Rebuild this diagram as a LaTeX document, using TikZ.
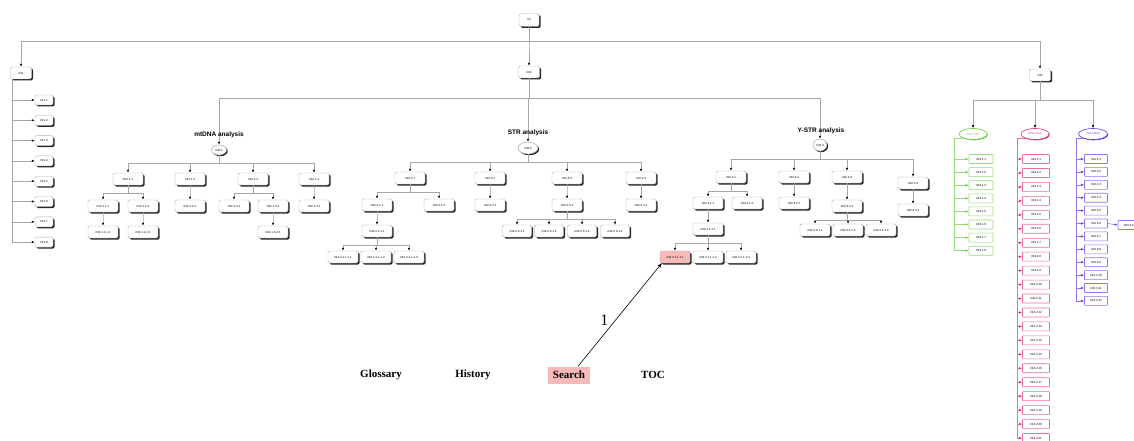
\documentclass[tikz,border=0pt]{standalone}
\usepackage{fontspec}
\setmainfont{Liberation Serif}
\newfontfamily\sansfam{Liberation Sans}
\usetikzlibrary{arrows.meta, positioning, shapes.geometric, shadows}
\definecolor{cgreen}{RGB}{110,200,70}
\definecolor{cred}{RGB}{225,50,110}
\definecolor{cblue}{RGB}{100,60,220}
\definecolor{cpink}{RGB}{248,185,185}

\begin{document}
\begin{tikzpicture}[
    x=1pt, y=-1pt,
    every node/.style={font=\sansfam\fontsize{3}{3.5}\selectfont, inner sep=0pt},
    tbox/.style={draw=black!30, rounded corners=1.5pt, fill=white, minimum width=30, minimum height=12,
        drop shadow={shadow xshift=1.5pt, shadow yshift=-1.5pt, fill=black, opacity=0.85}},
    lbox/.style={tbox, minimum width=18, minimum height=10},
    oval/.style={ellipse, draw=black!40, fill=white,
        drop shadow={shadow xshift=1.2pt, shadow yshift=-1.2pt, fill=black, opacity=0.85}},
    alabel/.style={font=\sansfam\bfseries\fontsize{6.5}{7}\selectfont},
    coval/.style={ellipse, draw=#1, line width=0.6pt, fill=white, text=#1, minimum width=28, minimum height=11,
        drop shadow={shadow xshift=0.8pt, shadow yshift=-0.8pt, fill=#1, opacity=1}},
    cbox/.style={draw=#1!70, line width=0.6pt, fill=white, rounded corners=0.5pt, minimum height=9},
    conn/.style={draw=black!35, line width=0.6pt, -{Latex[length=3pt, width=2.4pt, color=black]}},
    cconn/.style={draw=#1!70, line width=0.6pt, -{Latex[length=3pt, width=2.4pt, color=#1]}},
    menu/.style={font=\bfseries\fontsize{11}{13}\selectfont, inner sep=3pt},
]
    \fill[white] (0,0) rectangle (1134,441);
    \useasboundingbox (0,0) rectangle (1134,441);

    % Top levels
    \node[tbox, minimum width=20, minimum height=13] (n) at (529,20) {mt};
    \node[tbox, minimum width=21] (n1) at (21,73) {mt1};
    \node[tbox, minimum width=21] (n2) at (529,72) {mt2};
    \node[tbox, minimum width=21] (n3) at (1040,75) {mt3};
    \foreach \c in {n1,n2,n3}
        \draw[conn] (n.south) -- ++(0,14.5) -| (\c.north);

    % mt1 column
    \foreach \i in {1,...,8} {
        \node[lbox] (n1\i) at (44,{100+20.3*(\i-1)}) {mt1.\i};
        \draw[conn] ([xshift=2pt]n1.south west) |- (n1\i.west);
    }

    % Analysis branches
    \node[oval, minimum width=15, minimum height=10] (n21) at (219,150) {mt2.1};
    \node[oval, minimum width=20, minimum height=12] (n22) at (528,148) {mt2.2};
    \node[oval, minimum width=14, minimum height=12] (n23) at (820,145) {mt2.3};
    \foreach \c in {n21,n22,n23}
        \draw[conn] (n2.south) -- ++(0,20.5) -| (\c.north);
    \node[alabel] (l21) at (219,135) {mtDNA analysis};
    \node[alabel] (l22) at (528,133) {STR analysis};
    \node[alabel] (l23) at (821,131) {Y-STR analysis};

    % mtDNA analysis
    \node[tbox] (n211) at (128,179) {mt2.1.1};
    \node[tbox] (n212) at (190,179) {mt2.1.2};
    \node[tbox] (n213) at (253,179) {mt2.1.3};
    \node[tbox] (n214) at (314,179) {mt2.1.4};
    \node[tbox] (n2111) at (103,206) {mt2.1.1.1};
    \node[tbox] (n2112) at (143,206) {mt2.1.1.2};
    \node[tbox] (n2121) at (190,206) {mt2.1.2.1};
    \node[tbox] (n2131) at (234,206) {mt2.1.3.1};
    \node[tbox] (n2132) at (273,206) {mt2.1.3.2};
    \node[tbox] (n2141) at (314,206) {mt2.1.4.1};
    \node[tbox] (n21111) at (103,232) {mt2.1.1.1.1};
    \node[tbox] (n21121) at (143,232) {mt2.1.1.2.1};
    \node[tbox] (n21321) at (273,232) {mt2.1.3.2.1};

    % STR analysis
    \node[tbox] (n221) at (410,178) {mt2.2.1};
    \node[tbox] (n222) at (490,178) {mt2.2.2};
    \node[tbox] (n223) at (567,178) {mt2.2.3};
    \node[tbox] (n224) at (641,178) {mt2.2.4};
    \node[tbox] (n2211) at (377,205) {mt2.2.1.1};
    \node[tbox] (n2212) at (439,205) {mt2.2.1.2};
    \node[tbox] (n2221) at (490,205) {mt2.2.2.1};
    \node[tbox] (n2231) at (567,205) {mt2.2.3.1};
    \node[tbox] (n2241) at (641,205) {mt2.2.4.1};
    \node[tbox] (n22111) at (377,231) {mt2.2.1.1.1};
    \node[tbox, minimum width=29] (n22311) at (517,231) {mt2.2.3.1.1};
    \node[tbox, minimum width=29] (n22312) at (549,231) {mt2.2.3.1.2};
    \node[tbox, minimum width=29] (n22313) at (582,231) {mt2.2.3.1.3};
    \node[tbox, minimum width=29] (n22314) at (615,231) {mt2.2.3.1.4};
    \node[tbox] (n221111) at (343,257) {mt2.2.1.1.1.1};
    \node[tbox] (n221112) at (376,257) {mt2.2.1.1.1.2};
    \node[tbox] (n221113) at (409,257) {mt2.2.1.1.1.3};

    % Y-STR analysis
    \node[tbox] (n231) at (731,177) {mt2.3.1};
    \node[tbox] (n232) at (794,177) {mt2.3.2};
    \node[tbox] (n233) at (847,177) {mt2.3.3};
    \node[tbox] (n234) at (913,183) {mt2.3.4};
    \node[tbox] (n2311) at (708,203) {mt2.3.1.1};
    \node[tbox] (n2312) at (747,203) {mt2.3.1.2};
    \node[tbox] (n2321) at (794,203) {mt2.3.2.1};
    \node[tbox] (n2331) at (847,206) {mt2.3.3.1};
    \node[tbox] (n2341) at (913,210) {mt2.3.4.1};
    \node[tbox] (n23111) at (708,229) {mt2.3.1.1.1};
    \node[tbox] (n23311) at (815,230) {mt2.3.3.1.1};
    \node[tbox] (n23312) at (848,230) {mt2.3.3.1.2};
    \node[tbox] (n23313) at (881,230) {mt2.3.3.1.3};
    \node[tbox, fill=cpink] (n231111) at (675,257) {mt2.3.1.1.1.1};
    \node[tbox] (n231112) at (708,257) {mt2.3.1.1.1.2};
    \node[tbox] (n231113) at (741,257) {mt2.3.1.1.1.3};

    % Tree connectors
    \foreach \p/\c in {n21/n211, n21/n212, n21/n213, n21/n214,
                       n211/n2111, n211/n2112, n212/n2121, n213/n2131, n213/n2132, n214/n2141,
                       n2111/n21111, n2112/n21121, n2132/n21321,
                       n22/n221, n22/n222, n22/n223, n22/n224,
                       n221/n2211, n221/n2212, n222/n2221, n223/n2231, n224/n2241,
                       n2211/n22111, n2231/n22311, n2231/n22312, n2231/n22313, n2231/n22314,
                       n22111/n221111, n22111/n221112, n22111/n221113,
                       n23/n231, n23/n232, n23/n233, n23/n234,
                       n231/n2311, n231/n2312, n232/n2321, n233/n2331, n234/n2341,
                       n2311/n23111, n2331/n23311, n2331/n23312, n2331/n23313,
                       n23111/n231111, n23111/n231112, n23111/n231113}
        \draw[conn] (\p.south) -- ++(0,8) -| (\c.north);

    % mt3 columns
    \node[coval=cgreen] (n31) at (973,134) {mt3.1 Bio};
    \node[coval=cred] (n32) at (1035,134) {mt3.2 Pop};
    \node[coval=cblue, minimum width=29] (n33) at (1093,134) {mt3.3 Rep};
    \foreach \c in {n31,n32,n33}
        \draw[conn] (n3.south) -- ++(0,19) -| (\c.north);

    \foreach \i in {1,...,8} {
        \node[cbox=cgreen, minimum width=24] (grn\i) at (981,{159+13.1*(\i-1)}) {mt3.1.\i};
        \draw[cconn=cgreen] (n31.south west) -- ++(-9,0) |- (grn\i.west);
    }
    \foreach \i in {1,...,21} {
        \node[cbox=cred, minimum width=27] (red\i) at (1036,{159+13.95*(\i-1)}) {mt3.2.\i};
        \draw[cconn=cred] (n32.south west) -- ++(-8,0) |- (red\i.west);
    }
    \foreach \i in {1,...,12} {
        \node[cbox=cblue, minimum width=23] (blu\i) at (1096,{159+12.9*(\i-1)}) {mt3.3.\i};
        \draw[cconn=cblue] (n33.south west) -- ++(-6,0) |- (blu\i.west);
    }
    \node[cbox=cblue, minimum width=24] (blu61) at (1130,225) {mt3.3.6.1};
    \draw[cconn=cblue] (blu6.east) -- (blu61.west);

    % Menu
    \node[menu] (gl) at (381,375) {Glossary};
    \node[menu] (hi) at (473,375) {History};
    \node[menu, fill=cpink, minimum height=17, inner xsep=5pt] (se) at (569,375) {Search};
    \node[menu] (toc) at (653,375) {TOC};
    \draw[-{Stealth[length=5pt, width=3.5pt]}, line width=0.6pt] ([xshift=9pt]se.north)
        -- node[pos=0.45, left=7pt, font=\fontsize{16}{18}\selectfont] (one) {1} ([xshift=2pt]n231111.south west);
\end{tikzpicture}
\end{document}
